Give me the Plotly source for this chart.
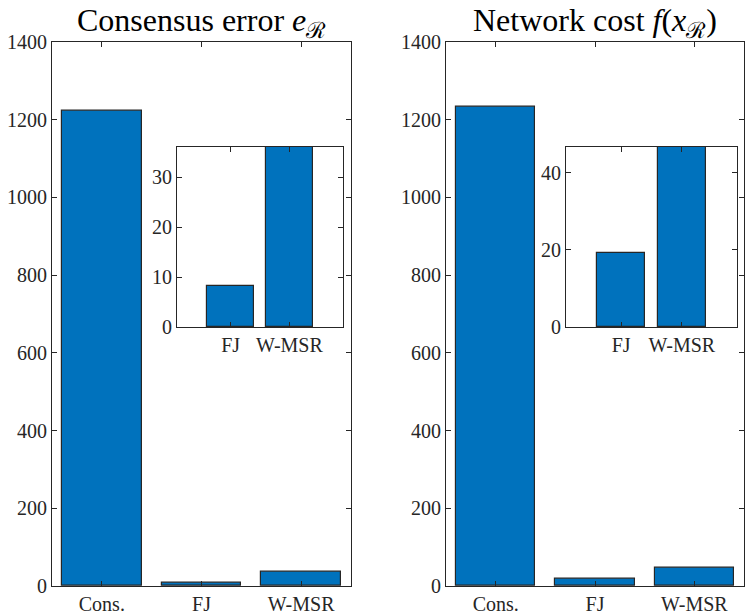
import plotly.graph_objects as go

# values
categories = ["Cons.", "FJ", "W-MSR"]
consensus_error = [1222, 8.2, 36]
network_cost = [1233, 19.2, 46.6]

positions = [1, 2, 3]
inset_categories = categories[1:]
inset_positions = positions[1:]

BLUE = "#0072BD"
EDGE = "#262626"
FONT = "Liberation Serif, Times New Roman, serif"

fig = go.Figure()


def add_bars(x, y, xa, ya):
    fig.add_trace(go.Bar(x=x, y=y, width=0.8, xaxis=xa, yaxis=ya,
                         marker=dict(color=BLUE, line=dict(color=EDGE, width=1.2)),
                         showlegend=False, hoverinfo="skip"))


# main panels
add_bars(positions, consensus_error, "x", "y")
add_bars(positions, network_cost, "x2", "y2")
# insets (only FJ and W-MSR)
add_bars(inset_positions, consensus_error[1:], "x3", "y3")
add_bars(inset_positions, network_cost[1:], "x4", "y4")

axis_style = dict(showline=True, linecolor=EDGE, linewidth=1, mirror="allticks",
                  ticks="inside", ticklen=5, tickcolor=EDGE, showgrid=False,
                  zeroline=False, automargin=False,
                  tickfont=dict(family=FONT, size=20, color="#262626"))

main_y = [0.047, 0.932]
inset_y = [0.468, 0.761]

fig.update_layout(
    width=746, height=615,
    margin=dict(l=0, r=0, t=0, b=0, pad=0),
    paper_bgcolor="white", plot_bgcolor="white",
    bargap=0,
    xaxis=dict(domain=[0.0697, 0.4705], range=[0.5, 3.5], tickvals=positions,
               ticktext=categories, anchor="y", **axis_style),
    yaxis=dict(domain=main_y, range=[0, 1400], dtick=200, anchor="x", **axis_style),
    xaxis2=dict(domain=[0.5979, 0.9973], range=[0.5, 3.5], tickvals=positions,
                ticktext=categories, anchor="y2", **axis_style),
    yaxis2=dict(domain=main_y, range=[0, 1400], dtick=200, anchor="x2", **axis_style),
    xaxis3=dict(domain=[0.2373, 0.4598], range=[1.09, 3.91], tickvals=inset_positions,
                ticktext=inset_categories, anchor="y3", **axis_style),
    yaxis3=dict(domain=inset_y, range=[0, max(consensus_error[1:])], dtick=10,
                anchor="x3", **axis_style),
    xaxis4=dict(domain=[0.7587, 0.9879], range=[1.09, 3.91], tickvals=inset_positions,
                ticktext=inset_categories, anchor="y4", **axis_style),
    yaxis4=dict(domain=inset_y, range=[0, max(network_cost[1:])], dtick=20,
                anchor="x4", **axis_style),
)

titles = [("Consensus error <i>e</i><sub>ℛ</sub>", 0.27),
          ("Network cost <i>f</i>(<i>x</i><sub>ℛ</sub>)", 0.798)]
for text, xc in titles:
    fig.add_annotation(text=text, x=xc, y=1.0, xref="paper", yref="paper",
                       xanchor="center", yanchor="top", showarrow=False,
                       font=dict(family=FONT, size=32, color="black"))

fig.write_html("out.html", config={"displayModeBar": False},
               post_script="document.body.style.margin='0px';")
